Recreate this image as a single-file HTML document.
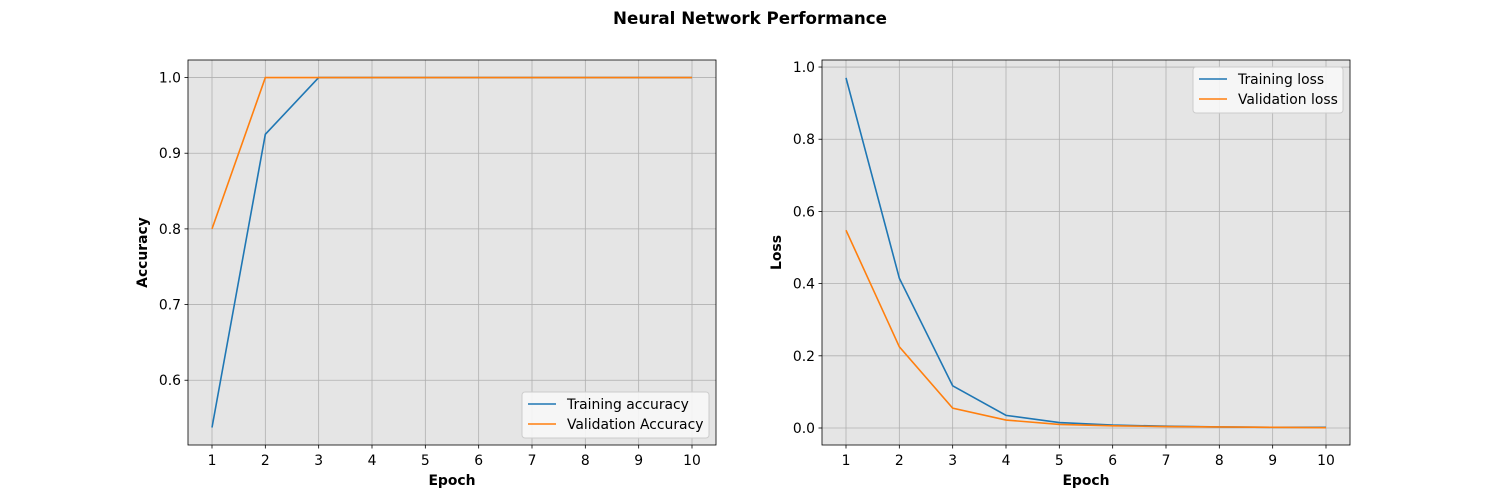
<!DOCTYPE html>
<html><head><meta charset="utf-8"><style>
html,body{margin:0;padding:0;background:#fff;}
svg{display:block;font-family:"DejaVu Sans","Liberation Sans",sans-serif;}
</style></head><body>
<svg id="fig" width="1500" height="500">
<text x="750" y="24" text-anchor="middle" font-size="16.7" font-weight="bold">Neural Network Performance</text>
</svg>
<script>
const epochs = [1,2,3,4,5,6,7,8,9,10];
const trainAcc = [0.5375,0.925,1.0,1.0,1.0,1.0,1.0,1.0,1.0,1.0];
const valAcc = [0.8,1.0,1.0,1.0,1.0,1.0,1.0,1.0,1.0,1.0];
const trainLoss = [0.97,0.415,0.117,0.035,0.015,0.008,0.005,0.003,0.002,0.002];
const valLoss = [0.548,0.225,0.055,0.022,0.01,0.006,0.004,0.003,0.002,0.001];
const accTicks = [0.6,0.7,0.8,0.9,1.0];
const lossTicks = [0.0,0.2,0.4,0.6,0.8,1.0];

const NS="http://www.w3.org/2000/svg";
const svg=document.getElementById('fig');
function mk(tag,attrs,parent){const e=document.createElementNS(NS,tag);for(const k in attrs)e.setAttribute(k,attrs[k]);(parent||svg).appendChild(e);return e;}
const FS=13.9;
function panel(cfg){
  const {L,T,W,H,xmin,xmax,ymin,ymax,yTicks,series,ylabel,legend,prefix}=cfg;
  const g=mk('g',{});
  
  
  const sx=v=>L+(v-xmin)/(xmax-xmin)*W;
  const sy=v=>T+H-(v-ymin)/(ymax-ymin)*H;
  mk('rect',{x:L,y:T,width:W,height:H,fill:'#e5e5e5'},g);
  epochs.forEach(e=>{
    const x=sx(e);
    mk('line',{x1:x,x2:x,y1:T,y2:T+H,stroke:'#b0b0b0','stroke-width':0.8},g);
    mk('line',{x1:x,x2:x,y1:T+H,y2:T+H+3.5,stroke:'#000','stroke-width':0.8},g);
    const t=mk('text',{x:x,y:T+H+20,'text-anchor':'middle','font-size':FS},g);
    t.textContent=e;
    
    
  });
  yTicks.forEach(v=>{
    const y=sy(v);
    mk('line',{x1:L,x2:L+W,y1:y,y2:y,stroke:'#b0b0b0','stroke-width':0.8},g);
    mk('line',{x1:L-3.5,x2:L,y1:y,y2:y,stroke:'#000','stroke-width':0.8},g);
    const t=mk('text',{x:L-7,y:y+5,'text-anchor':'end','font-size':FS},g);
    t.textContent=v.toFixed(1);
    
    
  });
  series.forEach(s=>{
    const p=mk('polyline',{points:s.data.map((v,i)=>sx(epochs[i])+','+sy(v)).join(' '),fill:'none',stroke:s.color,'stroke-width':1.6},g);
    
    
  });
  mk('rect',{x:L,y:T,width:W,height:H,fill:'none',stroke:'#000','stroke-width':0.8},g);
  const xl=mk('text',{x:L+W/2,y:T+H+40,'text-anchor':'middle','font-size':FS,'font-weight':'bold'},g);
  xl.textContent='Epoch';
  
  
  const yl=mk('text',{x:0,y:0,'text-anchor':'middle','font-size':FS,'font-weight':'bold',transform:`translate(${L-41},${T+H/2}) rotate(-90)`},g);
  yl.textContent=ylabel;
  
  
  const lg=mk('g',{},g);
  
  
  mk('rect',{x:legend.x,y:legend.y,width:legend.w,height:46,rx:3,fill:'#f7f7f7','fill-opacity':0.9,stroke:'#ccc'},lg);
  series.forEach((s,i)=>{
    const yy=legend.y+12+i*20;
    mk('line',{x1:legend.x+6,x2:legend.x+34,y1:yy,y2:yy,stroke:s.color,'stroke-width':1.6},lg);
    const t=mk('text',{x:legend.x+45,y:yy+5,'font-size':FS},lg);
    t.textContent=s.label;
    
    
  });
}
panel({L:188,T:60,W:528,H:385,xmin:0.55,xmax:10.45,ymin:0.5144,ymax:1.0232,yTicks:accTicks,ylabel:'Accuracy',prefix:'accuracy',
  series:[{data:trainAcc,color:'#1f77b4',label:'Training accuracy',name:'training-accuracy-line'},
          {data:valAcc,color:'#ff7f0e',label:'Validation Accuracy',name:'validation-accuracy-line'}],
  legend:{x:522,y:392,w:187}});
panel({L:822,T:60,W:528,H:385,xmin:0.55,xmax:10.45,ymin:-0.0471,ymax:1.0195,yTicks:lossTicks,ylabel:'Loss',prefix:'loss',
  series:[{data:trainLoss,color:'#1f77b4',label:'Training loss',name:'training-loss-line'},
          {data:valLoss,color:'#ff7f0e',label:'Validation loss',name:'validation-loss-line'}],
  legend:{x:1193,y:67,w:150}});
</script>
</body></html>
